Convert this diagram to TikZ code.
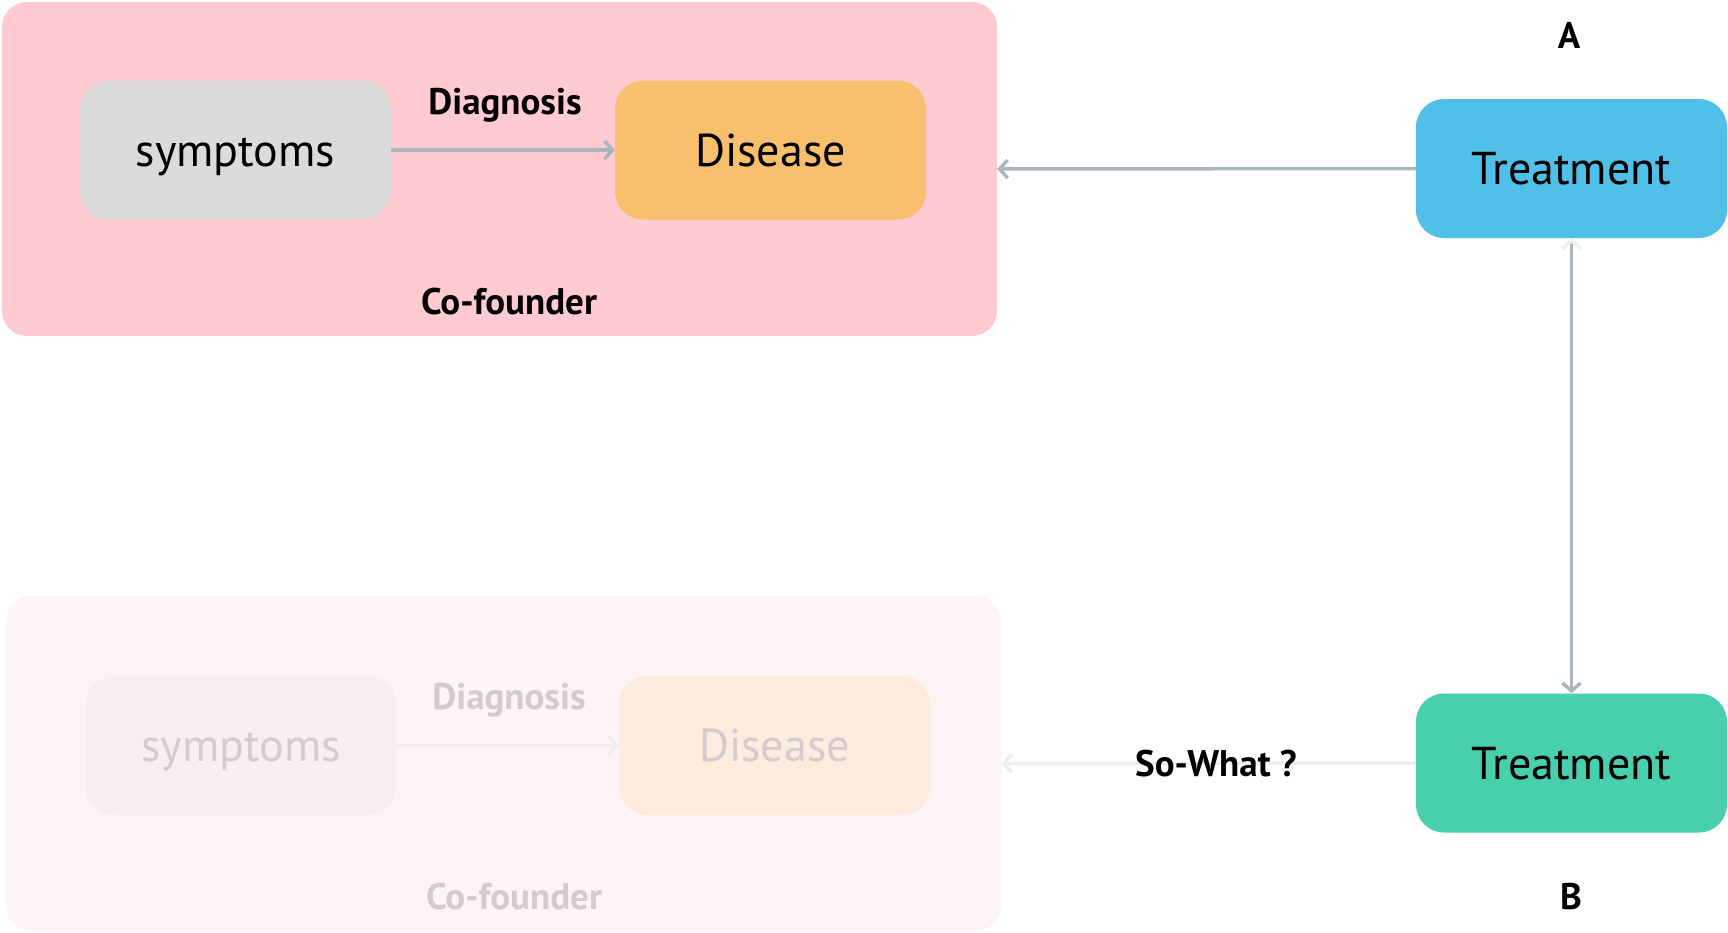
\documentclass[tikz,border=0pt]{standalone}
\usepackage{fontspec}
\setmainfont{PT Sans}
\usetikzlibrary{arrows.meta}
\definecolor{pinkA}{HTML}{FFCAD0}
\definecolor{pinkB}{HTML}{FEF4F5}
\definecolor{symA}{HTML}{DDDADB}
\definecolor{symB}{HTML}{F9EEEF}
\definecolor{disA}{HTML}{F8BF6C}
\definecolor{disB}{HTML}{FDEBDE}
\definecolor{treatAc}{HTML}{50C0E8}
\definecolor{treatBc}{HTML}{48CFAE}
\definecolor{arrowc}{HTML}{AAB6BE}
\definecolor{arrowfaint}{HTML}{EEEEEE}
\definecolor{fadetext}{HTML}{D3CCCD}
\tikzset{
  frame/.style={rounded corners=25pt, inner sep=0pt, minimum width=995pt, minimum height=334pt},
  card/.style={rounded corners=28pt, inner sep=0pt, minimum width=311pt, minimum height=139pt, font=\fontsize{46}{54}\selectfont, text height=32pt, text depth=0pt},
  lbl/.style={font=\fontsize{37}{42}\selectfont\bfseries, inner sep=0pt, text height=26pt, text depth=0pt},
  conn/.style={draw=arrowc, line width=3.5pt, -{Straight Barb[length=8pt,width=18pt]}},
  connfaint/.style={draw=arrowfaint, line width=3.5pt, -{Straight Barb[length=8pt,width=18pt]}}
}
\begin{document}
\begin{tikzpicture}[x=1pt,y=-1pt]
\useasboundingbox (0,0) rectangle (1728,932);
% top frame
\node[frame, fill=pinkA] (frameA) at (499.5,169) {};
\node[card, fill=symA] (symA) at (235.5,150) {symptoms};
\node[card, fill=disA] (disA) at (770.5,150) {Disease};
\draw[conn] (symA.east) -- (disA.west);
\node[lbl] (diagA) at (505,101) {Diagnosis};
\node[lbl] (cofA) at (509,301) {Co-founder};
% bottom faded frame
\node[frame, fill=pinkB, minimum height=335pt] (frameB) at (503.5,763.5) {};
\node[card, fill=symB, text=fadetext] (symB) at (241,745.5) {symptoms};
\node[card, fill=disB, text=fadetext] (disB) at (774.5,745.5) {Disease};
\draw[connfaint] (symB.east) -- (disB.west);
\node[lbl, text=fadetext] (diagB) at (509,696) {Diagnosis};
\node[lbl, text=fadetext] (cofB) at (514,896) {Co-founder};
% treatments
\node[card, fill=treatAc] (treatA) at (1571.5,168.5) {Treatment};
\node[card, fill=treatBc] (treatB) at (1571.5,763) {Treatment};
\node[lbl] (labA) at (1569,35) {A};
\node[lbl] (labB) at (1571,896) {B};
% connectors
\draw[conn] (treatA.west) -- (frameA.east);
\draw[draw=arrowc, line width=3.5pt, {Straight Barb[length=8pt,width=18pt,color=arrowfaint]}-{Straight Barb[length=8pt,width=18pt]}] (treatA.south) -- (treatB.north);
\draw[connfaint] (treatB.west) -- (frameB.east);
\node[lbl] (sowhat) at (1216,763) {So-What ?};
\end{tikzpicture}
\end{document}
